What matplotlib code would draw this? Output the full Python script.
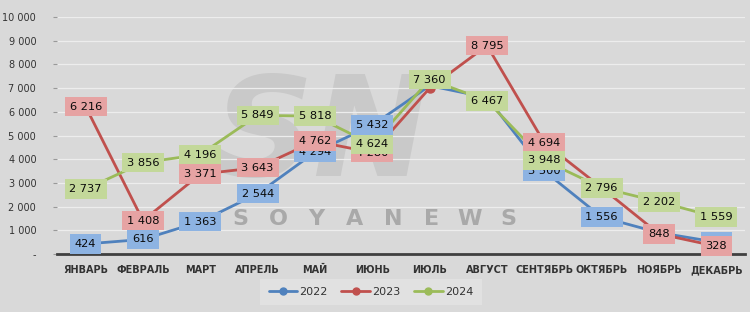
import matplotlib
matplotlib.use("Agg")
import matplotlib.pyplot as plt

months = ["ЯНВАРЬ", "ФЕВРАЛЬ", "МАРТ", "АПРЕЛЬ", "МАЙ", "ИЮНЬ", "ИЮЛЬ",
          "АВГУСТ", "СЕНТЯБРЬ", "ОКТЯБРЬ", "НОЯБРЬ", "ДЕКАБРЬ"]
v2022 = [424, 616, 1363, 2544, 4294, 5432, 7100, 6600, 3500, 1556, 900, 500]
v2023 = [6216, 1408, 3371, 3643, 4762, 4280, 7000, 8795, 4694, 2796, 848, 328]
v2024 = [2737, 3856, 4196, 5849, 5818, 4624, 7360, 6467, 3948, 2796, 2202, 1559]
series_names = ["2022", "2023", "2024"]
line_colors = ["#4f81bd", "#c0504d", "#9bbb59"]
box_colors = ["#8db3e2", "#e6a3a3", "#c3d89a"]
yticks = [0, 1000, 2000, 3000, 4000, 5000, 6000, 7000, 8000, 9000, 10000]
ytick_labels = ["-", "1 000", "2 000", "3 000", "4 000", "5 000", "6 000",
                "7 000", "8 000", "9 000", "10 000"]

bg = "#d9d9d9"
W, H = 750, 312
fig = plt.figure(figsize=(7.5, 3.12), dpi=100, facecolor=bg)
ax = fig.add_axes([57/W, 1-254/H, (745-57)/W, (254-17)/H])
ax.set_facecolor(bg)

x = list(range(len(months)))
ax.set_xlim(-0.5, 11.5)
ax.set_ylim(0, 10000)

# watermark (drawn inside the axes, beneath the data)
ax.text(322/W, 1-138/H, "SN", transform=fig.transFigure, fontsize=100,
        fontweight="bold", style="italic", color="#c9c9c9", ha="center",
        va="center", zorder=0.5)
letters = "SOYANEWS"
for i, ch in enumerate(letters):
    ax.text((240 + i*38.3)/W, 1-219/H, ch, transform=fig.transFigure,
            fontsize=16, fontweight="bold", color="#a9a9a9", ha="center",
            va="center", zorder=0.6)

for yv in yticks[1:]:
    ax.axhline(yv, color="#ededed", lw=0.9, zorder=1)

data = [v2022, v2023, v2024]
for vals, c, name in zip(data, line_colors, series_names):
    ax.plot(x, vals, color=c, lw=2.0, marker="o", ms=6.5, label=name, zorder=3,
            solid_capstyle="round")

labels_shown = [
    [True, True, True, True, True, True, False, False, True, True, False, True],
    [True, True, True, True, True, True, False, True, True, False, True, True],
    [True] * 12,
]
for vals, bc, shown in zip(data, box_colors, labels_shown):
    for xi, v, s in zip(x, vals, shown):
        if not s:
            continue
        txt = f"{v:,}".replace(",", " ")
        ax.text(xi, v, txt, ha="center", va="center", fontsize=8.2,
                color="#0a0a0a", zorder=5,
                bbox=dict(boxstyle="square,pad=0.42", fc=bc, ec="none"))

ax.set_yticks(yticks)
ax.set_yticklabels(ytick_labels, fontsize=7, color="#333333")
ax.set_xticks(x)
ax.set_xticklabels(months, fontsize=7, fontweight="bold", color="#333333")
ax.tick_params(axis="y", length=3, color="#999999", pad=12)
ax.tick_params(axis="x", length=0, pad=8)
for sp in ["top", "right", "left"]:
    ax.spines[sp].set_visible(False)
ax.spines["bottom"].set_color("#404040")
ax.spines["bottom"].set_linewidth(2)
ax.spines["bottom"].set_zorder(4)

leg = fig.legend(loc="center", bbox_to_anchor=(371/W, 1-292/H), ncol=3,
                 frameon=True, fontsize=8, handlelength=2.6, columnspacing=1.2,
                 handletextpad=0.2, borderpad=0.45)
leg.get_frame().set_facecolor("#e4e4e4")
leg.get_frame().set_edgecolor("none")
leg.get_frame().set_boxstyle("square")
for t in leg.get_texts():
    t.set_color("#333333")
for h in leg.legend_handles:
    h.set_markersize(5)

fig.savefig("out.png", dpi=100, facecolor=bg)
